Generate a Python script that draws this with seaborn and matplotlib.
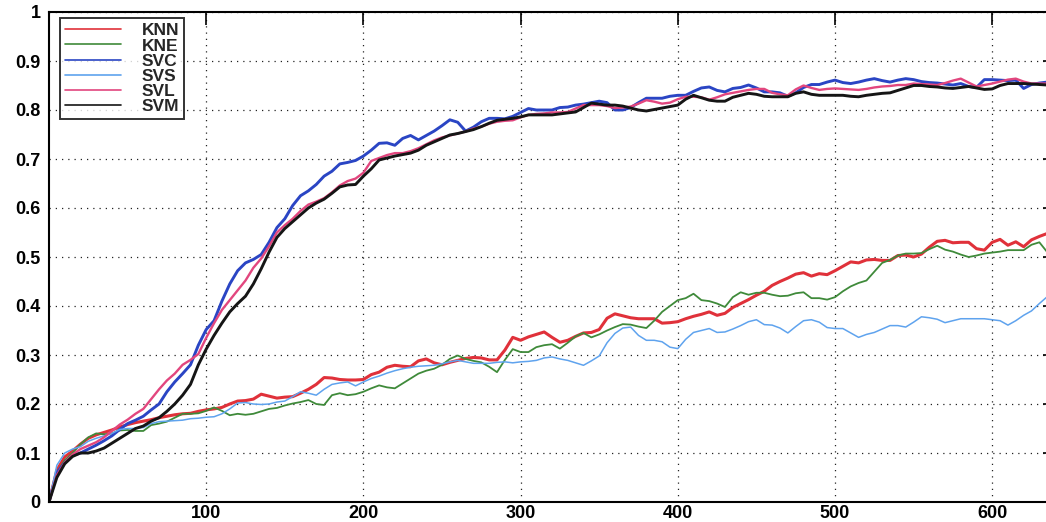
import numpy as np
import pandas as pd
import matplotlib
matplotlib.use("Agg")
import matplotlib.pyplot as plt
import seaborn as sns

# ---------------- data ----------------
x_vals = list(range(0, 640, 5))

knn = [0.000, 0.065, 0.092, 0.104, 0.118, 0.130, 0.137, 0.142, 0.147, 0.153,
       0.158, 0.162, 0.165, 0.168, 0.172, 0.175, 0.178, 0.180, 0.181, 0.185,
       0.188, 0.190, 0.193, 0.200, 0.206, 0.207, 0.210, 0.220, 0.216, 0.212,
       0.214, 0.215, 0.222, 0.230, 0.240, 0.254, 0.253, 0.250, 0.249, 0.249,
       0.250, 0.260, 0.265, 0.275, 0.279, 0.277, 0.276, 0.288, 0.292, 0.284,
       0.280, 0.285, 0.289, 0.293, 0.295, 0.294, 0.290, 0.290, 0.310, 0.336,
       0.330, 0.337, 0.342, 0.347, 0.336, 0.326, 0.330, 0.338, 0.345, 0.346,
       0.352, 0.375, 0.384, 0.380, 0.376, 0.374, 0.374, 0.374, 0.365, 0.366,
       0.368, 0.374, 0.379, 0.383, 0.388, 0.381, 0.385, 0.397, 0.405, 0.413,
       0.422, 0.430, 0.442, 0.450, 0.457, 0.465, 0.468, 0.461, 0.466, 0.464,
       0.472, 0.481, 0.490, 0.488, 0.494, 0.495, 0.493, 0.493, 0.503, 0.504,
       0.500, 0.506, 0.520, 0.532, 0.534, 0.529, 0.530, 0.530, 0.517, 0.514,
       0.530, 0.536, 0.524, 0.531, 0.521, 0.535, 0.542, 0.548]

kne = [0.000, 0.060, 0.085, 0.100, 0.118, 0.132, 0.140, 0.138, 0.140, 0.146,
       0.147, 0.145, 0.145, 0.157, 0.160, 0.164, 0.172, 0.180, 0.180, 0.181,
       0.186, 0.193, 0.186, 0.177, 0.180, 0.178, 0.180, 0.185, 0.190, 0.192,
       0.197, 0.201, 0.204, 0.208, 0.200, 0.198, 0.218, 0.222, 0.218, 0.220,
       0.225, 0.232, 0.238, 0.234, 0.232, 0.242, 0.252, 0.262, 0.268, 0.272,
       0.280, 0.292, 0.299, 0.292, 0.288, 0.285, 0.276, 0.265, 0.290, 0.312,
       0.306, 0.306, 0.316, 0.320, 0.322, 0.313, 0.325, 0.338, 0.345, 0.336,
       0.342, 0.350, 0.357, 0.363, 0.362, 0.358, 0.355, 0.370, 0.388, 0.400,
       0.412, 0.416, 0.425, 0.412, 0.410, 0.405, 0.398, 0.418, 0.428, 0.423,
       0.427, 0.427, 0.423, 0.420, 0.421, 0.426, 0.428, 0.416, 0.416, 0.413,
       0.418, 0.430, 0.440, 0.447, 0.452, 0.470, 0.488, 0.494, 0.503, 0.507,
       0.507, 0.508, 0.516, 0.523, 0.515, 0.511, 0.505, 0.500, 0.503, 0.507,
       0.509, 0.511, 0.514, 0.514, 0.514, 0.525, 0.530, 0.510]

svc = [0.000, 0.060, 0.080, 0.095, 0.100, 0.108, 0.116, 0.125, 0.135, 0.148,
       0.160, 0.167, 0.175, 0.188, 0.200, 0.225, 0.245, 0.262, 0.280, 0.320,
       0.352, 0.370, 0.410, 0.445, 0.472, 0.488, 0.495, 0.505, 0.530, 0.560,
       0.578, 0.605, 0.625, 0.635, 0.648, 0.665, 0.675, 0.690, 0.693, 0.697,
       0.706, 0.718, 0.732, 0.733, 0.728, 0.742, 0.748, 0.739, 0.748, 0.757,
       0.768, 0.780, 0.775, 0.757, 0.765, 0.776, 0.783, 0.783, 0.782, 0.787,
       0.795, 0.803, 0.800, 0.800, 0.800, 0.805, 0.806, 0.810, 0.812, 0.815,
       0.818, 0.815, 0.800, 0.800, 0.805, 0.815, 0.824, 0.824, 0.824, 0.828,
       0.830, 0.830, 0.838, 0.845, 0.847, 0.840, 0.837, 0.844, 0.846, 0.851,
       0.845, 0.837, 0.837, 0.835, 0.828, 0.835, 0.846, 0.852, 0.852, 0.857,
       0.861, 0.856, 0.854, 0.857, 0.861, 0.864, 0.860, 0.857, 0.861, 0.864,
       0.862, 0.858, 0.856, 0.855, 0.853, 0.851, 0.854, 0.848, 0.846, 0.862,
       0.862, 0.861, 0.860, 0.861, 0.844, 0.852, 0.855, 0.857]

svs = [0.000, 0.075, 0.100, 0.108, 0.113, 0.124, 0.130, 0.135, 0.140, 0.148,
       0.150, 0.150, 0.152, 0.160, 0.164, 0.165, 0.166, 0.167, 0.170, 0.171,
       0.173, 0.174, 0.180, 0.190, 0.202, 0.203, 0.200, 0.199, 0.200, 0.204,
       0.206, 0.215, 0.225, 0.222, 0.218, 0.230, 0.240, 0.243, 0.245, 0.237,
       0.245, 0.252, 0.257, 0.263, 0.268, 0.272, 0.275, 0.277, 0.278, 0.279,
       0.282, 0.286, 0.289, 0.286, 0.283, 0.283, 0.283, 0.285, 0.286, 0.284,
       0.286, 0.287, 0.289, 0.294, 0.296, 0.292, 0.289, 0.284, 0.279, 0.288,
       0.298, 0.325, 0.344, 0.355, 0.357, 0.340, 0.330, 0.330, 0.327, 0.316,
       0.313, 0.332, 0.346, 0.350, 0.354, 0.346, 0.347, 0.353, 0.360, 0.368,
       0.372, 0.362, 0.361, 0.355, 0.345, 0.358, 0.370, 0.372, 0.367, 0.356,
       0.354, 0.354, 0.345, 0.336, 0.342, 0.346, 0.353, 0.360, 0.360, 0.357,
       0.367, 0.378, 0.376, 0.373, 0.366, 0.370, 0.374, 0.374, 0.374, 0.374,
       0.372, 0.370, 0.361, 0.370, 0.381, 0.390, 0.405, 0.419]

svl = [0.000, 0.055, 0.080, 0.097, 0.108, 0.115, 0.122, 0.132, 0.145, 0.158,
       0.168, 0.180, 0.190, 0.210, 0.230, 0.248, 0.262, 0.280, 0.290, 0.302,
       0.335, 0.365, 0.392, 0.412, 0.432, 0.452, 0.478, 0.497, 0.522, 0.550,
       0.565, 0.578, 0.594, 0.607, 0.613, 0.620, 0.632, 0.646, 0.655, 0.660,
       0.672, 0.696, 0.702, 0.708, 0.712, 0.712, 0.716, 0.722, 0.730, 0.738,
       0.744, 0.748, 0.752, 0.756, 0.762, 0.766, 0.772, 0.776, 0.778, 0.779,
       0.785, 0.790, 0.792, 0.793, 0.795, 0.795, 0.796, 0.803, 0.810, 0.810,
       0.810, 0.808, 0.804, 0.805, 0.807, 0.813, 0.820, 0.817, 0.813, 0.815,
       0.822, 0.827, 0.827, 0.826, 0.821, 0.826, 0.832, 0.835, 0.838, 0.841,
       0.843, 0.843, 0.835, 0.832, 0.830, 0.842, 0.850, 0.845, 0.841, 0.843,
       0.844, 0.843, 0.842, 0.841, 0.843, 0.846, 0.848, 0.849, 0.851, 0.851,
       0.854, 0.853, 0.852, 0.851, 0.855, 0.860, 0.864, 0.856, 0.848, 0.851,
       0.854, 0.858, 0.862, 0.864, 0.858, 0.854, 0.854, 0.854]

svm = [0.000, 0.050, 0.078, 0.093, 0.100, 0.100, 0.104, 0.110, 0.120, 0.130,
       0.140, 0.150, 0.155, 0.165, 0.172, 0.185, 0.200, 0.218, 0.240, 0.280,
       0.312, 0.340, 0.365, 0.388, 0.405, 0.420, 0.445, 0.476, 0.510, 0.540,
       0.558, 0.572, 0.586, 0.600, 0.610, 0.618, 0.630, 0.643, 0.647, 0.648,
       0.665, 0.680, 0.698, 0.702, 0.706, 0.709, 0.712, 0.718, 0.728, 0.735,
       0.742, 0.749, 0.752, 0.756, 0.760, 0.766, 0.773, 0.779, 0.781, 0.783,
       0.786, 0.790, 0.790, 0.790, 0.790, 0.792, 0.794, 0.796, 0.805, 0.814,
       0.812, 0.810, 0.810, 0.808, 0.804, 0.800, 0.798, 0.801, 0.804, 0.807,
       0.810, 0.822, 0.830, 0.825, 0.820, 0.818, 0.818, 0.826, 0.830, 0.834,
       0.832, 0.828, 0.827, 0.827, 0.827, 0.834, 0.837, 0.832, 0.830, 0.830,
       0.830, 0.830, 0.828, 0.827, 0.830, 0.832, 0.834, 0.835, 0.840, 0.845,
       0.850, 0.850, 0.848, 0.847, 0.845, 0.844, 0.846, 0.848, 0.845, 0.842,
       0.843, 0.850, 0.854, 0.854, 0.854, 0.853, 0.852, 0.851]

labels = ["KNN", "KNE", "SVC", "SVS", "SVL", "SVM"]
x_ticks = [100, 200, 300, 400, 500, 600]
y_ticks = [0, 0.1, 0.2, 0.3, 0.4, 0.5, 0.6, 0.7, 0.8, 0.9, 1]
y_tick_labels = ["0", "0.1", "0.2", "0.3", "0.4", "0.5", "0.6", "0.7", "0.8", "0.9", "1"]

# ---------------- styling ----------------
colors = {"KNN": "#e0313a", "KNE": "#3f8a3a", "SVC": "#2a45c4",
          "SVS": "#5fa3ee", "SVL": "#e2467e", "SVM": "#151515"}
widths = {"KNN": 2.2, "KNE": 1.3, "SVC": 2.1, "SVS": 1.1, "SVL": 1.7, "SVM": 2.1}

series = {"KNN": knn, "KNE": kne, "SVC": svc, "SVS": svs, "SVL": svl, "SVM": svm}
frames = [pd.DataFrame({"x": x_vals, "value": v, "model": k}) for k, v in series.items()]
df = pd.concat(frames, ignore_index=True)

sns.set_style("white")
plt.rcParams["font.family"] = ["Liberation Sans", "DejaVu Sans"]

W, H = 1046, 522
fig = plt.figure(figsize=(W / 100, H / 100), dpi=100)
# axes: x=0 at px 49, 1.572 px per unit, xlim to 640 (right spine falls beyond the image)
ax = fig.add_axes([49 / W, 20 / H, (1.572 * 640) / W, 490 / H])

for name in labels:
    sub = df[df["model"] == name]
    sns.lineplot(data=sub, x="x", y="value", ax=ax, color=colors[name],
                 linewidth=widths[name], label=name, estimator=None, sort=False)

ax.set_xlim(0, 640)
ax.set_ylim(0, 1)
ax.set_xticks(x_ticks)
ax.set_xticklabels([str(t) for t in x_ticks])
ax.set_yticks(y_ticks)
ax.set_yticklabels(y_tick_labels)
ax.set_xlabel("")
ax.set_ylabel("")
ax.grid(True, linestyle=(0, (1, 4)), color="#222222", linewidth=0.9)
ax.tick_params(direction="in", length=9, width=1.2, labelsize=13, colors="black",
               top=True, right=True)
ax.tick_params(axis="x", pad=2)
ax.tick_params(axis="y", pad=6)
for lab in ax.get_xticklabels() + ax.get_yticklabels():
    lab.set_fontweight("bold")
for s in ax.spines.values():
    s.set_color("black")
    s.set_linewidth(1.5)

leg = ax.legend(loc="upper left", bbox_to_anchor=(11 / (1.572 * 640), 1 - 6 / 490),
                frameon=True, fancybox=False,
                prop={"size": 12.5, "weight": "bold"}, handlelength=3.2,
                borderpad=0.3, labelspacing=0.0, handletextpad=1.2, borderaxespad=0)
leg.get_frame().set_edgecolor("black")
leg.get_frame().set_linewidth(1.4)
for h in leg.get_lines():
    h.set_linewidth(1.2)

fig.savefig("out.png", dpi=100)
